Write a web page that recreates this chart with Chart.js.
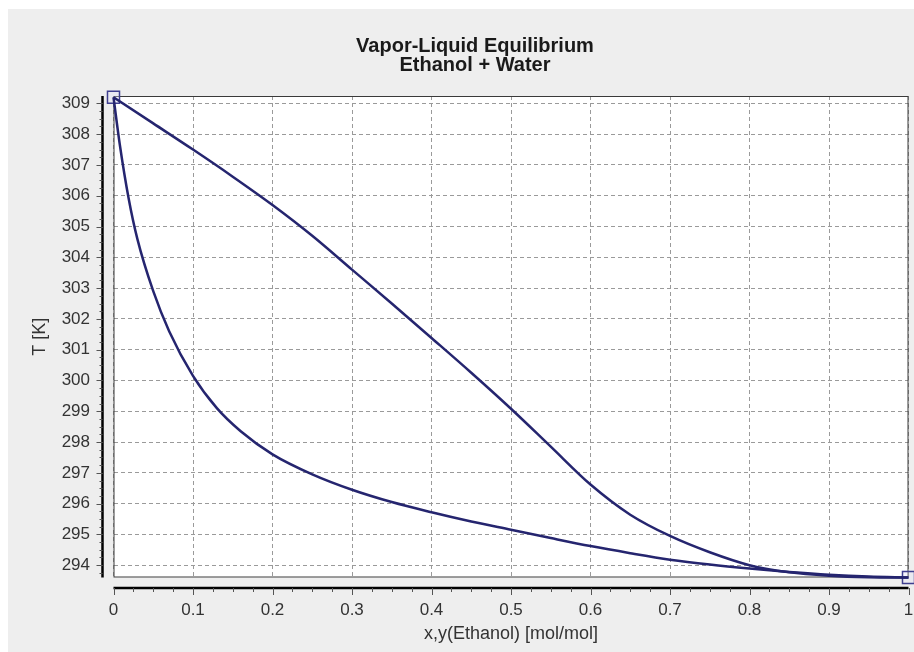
<!DOCTYPE html>
<html>
<head>
<meta charset="utf-8">
<script src="https://cdn.jsdelivr.net/npm/chart.js@4/dist/chart.umd.min.js"></script>
<style>
  html, body { margin: 0; padding: 0; background: #ffffff; }
  #wrap { width: 914px; height: 652px; position: relative; }
</style>
</head>
<body>
<div id="wrap"><canvas id="c" width="914" height="652"></canvas></div>
<script>
// Liquid (bubble) curve: x(Ethanol) vs T
const liquidX = [0, 0.008, 0.019, 0.03, 0.05, 0.07, 0.1, 0.13, 0.16, 0.2, 0.25, 0.3, 0.35, 0.4, 0.45, 0.5, 0.55, 0.6, 0.65, 0.7, 0.75, 0.8, 0.85, 0.9, 0.95, 1.0];
const liquidT = [309.2, 307.65, 305.92, 304.6, 302.9, 301.6, 300.15, 299.1, 298.35, 297.6, 296.95, 296.45, 296.05, 295.72, 295.42, 295.15, 294.88, 294.62, 294.39, 294.18, 294.02, 293.89, 293.78, 293.69, 293.63, 293.6];
// Vapor (dew) curve: y(Ethanol) vs T
const vaporY = [0, 0.05, 0.1, 0.15, 0.2, 0.25, 0.3, 0.35, 0.4, 0.45, 0.5, 0.55, 0.6, 0.65, 0.7, 0.75, 0.8, 0.85, 0.9, 0.95, 1.0];
const vaporT = [309.2, 308.35, 307.5, 306.62, 305.7, 304.7, 303.6, 302.5, 301.38, 300.25, 299.08, 297.85, 296.62, 295.64, 294.95, 294.42, 294.0, 293.77, 293.66, 293.61, 293.6];
// Pure-component end points
const endX = [0, 1];
const endT = [309.2, 293.6];
// Axis texts
const titleLines = ['Vapor-Liquid Equilibrium', 'Ethanol + Water'];
const xTitle = 'x,y(Ethanol) [mol/mol]';
const yTitle = 'T [K]';

const FONT = '"Liberation Sans", Arial, sans-serif';
const CURVE = '#25256f';

const toPts = (xs, ys) => xs.map((v, i) => ({ x: v, y: ys[i] }));

const bgPlugin = {
  id: 'bg',
  beforeDraw(chart) {
    const { ctx, chartArea: a } = chart;
    ctx.save();
    ctx.fillStyle = '#ffffff';
    ctx.fillRect(0, 0, chart.width, chart.height);
    ctx.fillStyle = '#eeeeee';
    ctx.fillRect(8, 9, chart.width - 8, chart.height - 9);
    ctx.fillStyle = '#ffffff';
    ctx.fillRect(a.left, a.top, a.right - a.left, a.bottom - a.top);
    ctx.restore();
  },
  beforeDatasetsDraw(chart) {
    const { ctx, chartArea: a, scales } = chart;
    const xs = scales.x, ys = scales.y;
    ctx.save();
    // plot border
    ctx.strokeStyle = '#3a3a3a';
    ctx.lineWidth = 1;
    ctx.strokeRect(a.left + 0.5, a.top + 0.5, a.right - a.left - 1, a.bottom - a.top - 1);
    // offset y axis line
    const ax = a.left - 11;
    ctx.strokeStyle = '#000';
    ctx.lineWidth = 2.5;
    ctx.beginPath();
    ctx.moveTo(ax, a.top);
    ctx.lineTo(ax, a.bottom);
    ctx.stroke();
    ctx.lineWidth = 1;
    ctx.strokeStyle = '#555';
    for (let v = 294; v <= 309; v += 1) {
      const py = Math.round(ys.getPixelForValue(v)) + 0.5;
      ctx.beginPath(); ctx.moveTo(ax - 6, py); ctx.lineTo(ax, py); ctx.stroke();
    }
    for (let k = 0; k <= 62; k++) {
      const v = 293.75 + k * 0.25;
      if (v > ys.max) break;
      const py = Math.round(ys.getPixelForValue(v)) + 0.5;
      ctx.beginPath(); ctx.moveTo(ax - 3, py); ctx.lineTo(ax, py); ctx.stroke();
    }
    // offset x axis line
    const ay = a.bottom + 10.5;
    ctx.strokeStyle = '#000';
    ctx.lineWidth = 2.5;
    ctx.beginPath();
    ctx.moveTo(a.left, ay);
    ctx.lineTo(a.right, ay);
    ctx.stroke();
    ctx.lineWidth = 1;
    ctx.strokeStyle = '#555';
    for (let k = 0; k <= 40; k++) {
      const v = k * 0.025;
      const px = Math.round(xs.getPixelForValue(v)) + 0.5;
      const len = (k % 4 === 0) ? 7 : 4;
      ctx.beginPath(); ctx.moveTo(px, ay); ctx.lineTo(px, ay + len); ctx.stroke();
    }
    ctx.restore();
  }
};

new Chart(document.getElementById('c'), {
  type: 'scatter',
  data: {
    datasets: [
      {
        label: 'Vapor',
        data: toPts(vaporY, vaporT),
        showLine: true,
        borderColor: CURVE,
        borderWidth: 2.5,
        pointRadius: 0,
        cubicInterpolationMode: 'monotone',
        clip: false
      },
      {
        label: 'Liquid',
        data: toPts(liquidX, liquidT),
        showLine: true,
        borderColor: CURVE,
        borderWidth: 2.5,
        pointRadius: 0,
        cubicInterpolationMode: 'monotone',
        clip: false
      },
      {
        label: 'Pure',
        data: toPts(endX, endT),
        showLine: false,
        pointStyle: 'rect',
        pointRadius: 8.5,
        pointBorderWidth: 1.5,
        pointBorderColor: '#3f3f8f',
        pointBackgroundColor: 'rgba(225,225,245,0.35)',
        clip: false
      }
    ]
  },
  options: {
    responsive: false,
    animation: false,
    devicePixelRatio: 1,
    layout: { autoPadding: false, padding: { left: 41.5, right: 5.5, top: 0, bottom: 0 } },
    plugins: {
      legend: { display: false },
      tooltip: { enabled: false },
      title: {
        display: true,
        text: titleLines,
        color: '#1a1a1a',
        font: { family: FONT, size: 20, weight: 'bold', lineHeight: 0.95 },
        padding: { top: 36.5, bottom: 21.5 }
      }
    },
    scales: {
      x: {
        type: 'linear',
        min: 0,
        max: 1,
        afterFit(s) { s.height = 74.5; s.paddingRight = 0; s.paddingLeft = 0; },
        ticks: {
          stepSize: 0.1,
          color: '#333',
          font: { family: FONT, size: 17 },
          padding: 0,
          maxRotation: 0,
          callback: v => String(Number(v.toFixed(1)))
        },
        grid: {
          color: '#9a9a9a',
          lineWidth: 1,
          drawTicks: true,
          tickLength: 23,
          tickColor: 'rgba(0,0,0,0)'
        },
        border: { display: false, dash: [4, 3] },
        title: {
          display: true,
          text: xTitle,
          color: '#333',
          font: { family: FONT, size: 18 },
          padding: { top: 0, bottom: 7.2 }
        }
      },
      y: {
        type: 'linear',
        min: 293.6,
        max: 309.24,
        afterFit(s) { s.width = 72; },
        ticks: {
          stepSize: 1,
          includeBounds: false,
          color: '#333',
          font: { family: FONT, size: 17 },
          padding: 23.5
        },
        grid: {
          color: '#9a9a9a',
          lineWidth: 1,
          drawTicks: false
        },
        border: { display: false, dash: [4, 3] },
        title: {
          display: true,
          text: yTitle,
          color: '#333',
          font: { family: FONT, size: 18 },
          padding: { top: -12.3, bottom: 0 }
        }
      }
    }
  },
  plugins: [bgPlugin]
});
</script>
</body>
</html>
